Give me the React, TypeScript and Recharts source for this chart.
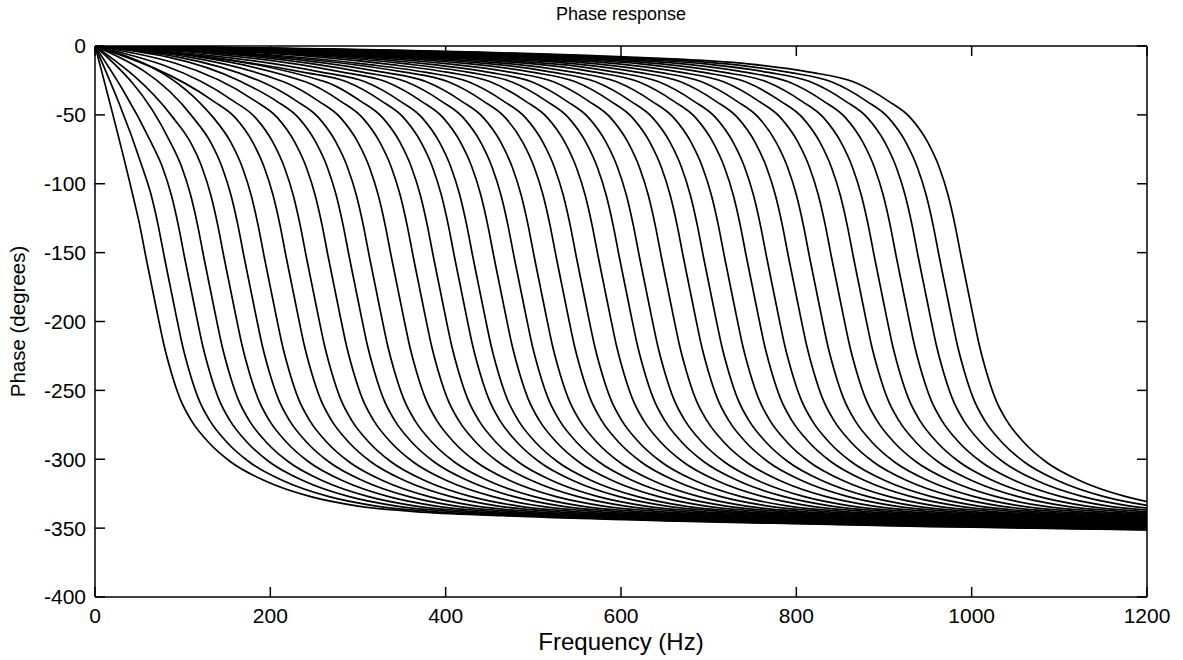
import React from 'react'
import { LineChart, Line, XAxis, YAxis } from 'recharts'

// tick labels
const FREQ_TICKS = [0, 200, 400, 600, 800, 1000, 1200]
const PHASE_TICKS = [0, -50, -100, -150, -200, -250, -300, -350, -400]

// centre frequency (phase = -175 deg) of each of the 40 curves
const CENTRE_FREQS = [
  65, 86, 109, 131, 154, 177, 200, 225, 248, 273,
  297, 320, 345, 370, 393, 417, 438, 462, 485, 508,
  533, 556, 581, 605, 628, 653, 678, 701, 725, 750,
  773, 798, 822, 847, 872, 896, 921, 946, 970, 995,
]

// common curve shape: phase (deg) vs. offset (Hz) from the centre frequency
const SHAPE_OFFSETS = [
  -1000, -700, -500, -350, -250, -180, -130, -90, -65, -45, -32, -22, -14, -7,
  0, 7, 14, 22, 32, 45, 65, 90, 130, 180, 235, 300, 400, 600, 900, 1200,
]
const SHAPE_PHASE = [
  -2, -4, -6, -9, -13, -19, -26, -40, -52, -70, -88, -108, -130, -153,
  -175, -197, -218, -237, -256, -272, -288, -302, -316, -327, -334, -338, -341, -345, -349, -352,
]

const series = CENTRE_FREQS.map((fc) => [
  { f: 0, p: 0 },
  ...SHAPE_OFFSETS.map((o, i) => ({ f: fc + o, p: SHAPE_PHASE[i] })).filter((d) => d.f >= 0.55 * fc),
])

const FONT = '"Liberation Sans", Arial, sans-serif'
const tickStyle = { fontSize: 21, fill: '#000', fontFamily: FONT }
const frame = { stroke: '#000', strokeWidth: 1.5 }
const noLabel = () => <g />

export default function App() {
  return (
    <div style={{ position: 'absolute', left: 0, top: 0, width: 1183, height: 660, background: '#fff' }}>
      <div
        style={{
          position: 'absolute', left: 95, width: 1052, top: 4, textAlign: 'center',
          fontFamily: FONT, fontSize: 18, color: '#000',
        }}
      >
        Phase response
      </div>
      <LineChart width={1183} height={660} margin={{ top: 36, right: 36, bottom: 0, left: 0 }}>
        {/* negative tickSize: tick marks point into the plot, like the original */}
        <XAxis
          type="number"
          dataKey="f"
          domain={[0, 1200]}
          ticks={FREQ_TICKS}
          interval={0}
          allowDataOverflow
          height={63}
          tickLine={frame}
          tickSize={-10}
          tickMargin={21}
          tick={tickStyle}
          axisLine={frame}
          label={{ value: 'Frequency (Hz)', position: 'insideBottom', offset: 10, style: { fontSize: 24, fill: '#000', fontFamily: FONT } }}
        />
        <XAxis xAxisId="top" type="number" dataKey="f" domain={[0, 1200]} allowDataOverflow ticks={FREQ_TICKS} interval={0} orientation="top" height={10} tick={noLabel} tickSize={-10} axisLine={frame} tickLine={frame} />
        <YAxis
          type="number"
          domain={[-400, 0]}
          ticks={PHASE_TICKS}
          interval={0}
          allowDataOverflow
          width={95}
          tickLine={frame}
          tickSize={-10}
          tickMargin={19}
          tick={tickStyle}
          axisLine={frame}
          label={{ value: 'Phase (degrees)', angle: -90, position: 'insideLeft', offset: 18, style: { fontSize: 20.5, fill: '#000', fontFamily: FONT, textAnchor: 'middle' } }}
        />
        <YAxis yAxisId="right" type="number" domain={[-400, 0]} allowDataOverflow ticks={PHASE_TICKS} interval={0} orientation="right" mirror tick={noLabel} tickSize={10} axisLine={frame} tickLine={frame} />
        {series.map((data, i) => (
          <Line
            key={`curve-${i}`}
            data={data}
            dataKey="p"
            type="monotone"
            stroke="#000"
            strokeWidth={1.7}
            dot={false}
            isAnimationActive={false}
          />
        ))}
      </LineChart>
    </div>
  )
}
